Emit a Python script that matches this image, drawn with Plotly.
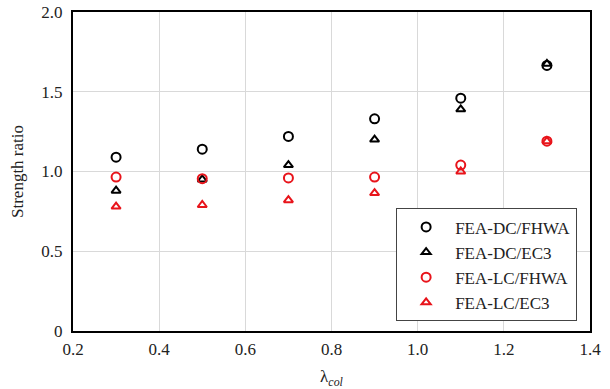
import plotly.graph_objects as go

lam = [0.3, 0.5, 0.7, 0.9, 1.1, 1.3]
dc_fhwa = [1.09, 1.14, 1.22, 1.33, 1.46, 1.665]
dc_ec3 = [0.88, 0.95, 1.04, 1.20, 1.39, 1.675]
lc_fhwa = [0.965, 0.955, 0.96, 0.965, 1.04, 1.19]
lc_ec3 = [0.78, 0.79, 0.82, 0.865, 1.00, 1.19]

y_tickvals = [0, 0.5, 1.0, 1.5, 2.0]
y_ticktext = ["0", "0.5", "1.0", "1.5", "2.0"]
x_tickvals = [0.2, 0.4, 0.6, 0.8, 1.0, 1.2, 1.4]
x_ticktext = ["0.2", "0.4", "0.6", "0.8", "1.0", "1.2", "1.4"]

font = "Liberation Serif"
tick_font = dict(family=font, size=17, color="#222")

fig = go.Figure()
series = [
    ("FEA-DC/FHWA", dc_fhwa, "circle-open", "black", 9),
    ("FEA-DC/EC3", dc_ec3, "triangle-up-open", "black", 8),
    ("FEA-LC/FHWA", lc_fhwa, "circle-open", "#e8141b", 9),
    ("FEA-LC/EC3", lc_ec3, "triangle-up-open", "#e8141b", 8),
]
for name, ys, sym, col, sz in series:
    fig.add_trace(go.Scatter(
        x=lam, y=ys, mode="markers", name=name,
        marker=dict(symbol=sym, size=sz, color=col, line=dict(color=col, width=2)),
    ))

fig.update_layout(
    width=610, height=389,
    margin=dict(l=73, r=20, t=12, b=58),
    paper_bgcolor="white", plot_bgcolor="white",
    font=dict(family=font, size=16, color="#222"),
    showlegend=True,
    legend=dict(
        x=0.625, y=0.03, xanchor="left", yanchor="bottom",
        bgcolor="white", bordercolor="#444", borderwidth=1,
        font=dict(family=font, size=17, color="#222"),
        itemwidth=48, tracegroupgap=0,
    ),
    xaxis=dict(
        range=[0.2, 1.4], tickvals=x_tickvals, ticktext=x_ticktext,
        tickfont=tick_font, automargin=False,
        showgrid=True, gridcolor="#d9d9d9", gridwidth=1,
        showline=True, linecolor="black", linewidth=2, mirror=True,
        zeroline=False, ticks="outside", ticklen=2, tickcolor="white",
        title=dict(text="λ<sub><i>col</i></sub>", font=dict(family=font, size=17), standoff=12),
    ),
    yaxis=dict(
        range=[0, 2.0], tickvals=y_tickvals, ticktext=y_ticktext,
        tickfont=tick_font, automargin=False,
        showgrid=True, gridcolor="#d9d9d9", gridwidth=1,
        showline=True, linecolor="black", linewidth=2, mirror=True,
        zeroline=False, ticks="outside", ticklen=5, tickcolor="white",
        title=dict(text="Strength ratio", font=dict(family=font, size=17), standoff=13),
    ),
)

fig.write_html("out.html", config={"displayModeBar": False},
               post_script="document.body.style.margin='0';")
